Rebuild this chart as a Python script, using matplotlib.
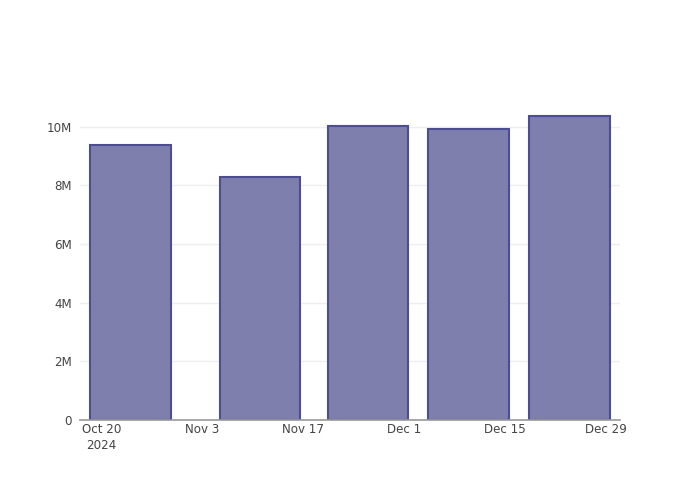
import numpy as np
import pandas as pd
import matplotlib
matplotlib.use('Agg')
import matplotlib.pyplot as plt
import matplotlib.dates as mdates

# weekly-ish totals
dates = pd.to_datetime(['2024-10-24', '2024-11-11', '2024-11-26', '2024-12-10', '2024-12-24'])
values = [9.37e6, 8.29e6, 10.04e6, 9.92e6, 10.37e6]

tick_dates = pd.to_datetime(['2024-10-20', '2024-11-03', '2024-11-17',
                             '2024-12-01', '2024-12-15', '2024-12-29'])
tick_labels = ['Oct 20\n2024', 'Nov 3', 'Nov 17', 'Dec 1', 'Dec 15', 'Dec 29']
y_ticks = [0, 2e6, 4e6, 6e6, 8e6, 10e6]
y_labels = ['0', '2M', '4M', '6M', '8M', '10M']

plt.rcParams['font.family'] = ['DejaVu Sans']
fig = plt.figure(figsize=(7, 5), dpi=100)
ax = fig.add_axes([80 / 700, 80 / 500, 540 / 700, 320 / 500])

x = mdates.date2num(dates)
width = 0.8 * np.min(np.diff(x))
ax.bar(x, values, width=width, color='#7f7fae', edgecolor='#4d4d91',
       linewidth=1.5, zorder=3)

ax.set_xlim(mdates.date2num(pd.Timestamp('2024-10-17')),
            mdates.date2num(pd.Timestamp('2024-12-31')))
ax.set_ylim(0, 10.91e6)

ax.set_xticks(mdates.date2num(tick_dates))
ax.set_xticklabels(tick_labels, fontsize=8.6, color='#444444', linespacing=1.3)
ax.set_yticks(y_ticks)
ax.set_yticklabels(y_labels, fontsize=8.6, color='#444444')
ax.tick_params(axis='x', length=0, pad=2)
ax.tick_params(axis='y', length=0, pad=6)

ax.grid(axis='y', color='#eeeeee', linewidth=1, zorder=0)
for s in ['top', 'right', 'left']:
    ax.spines[s].set_visible(False)
ax.spines['bottom'].set_color('#999999')
ax.spines['bottom'].set_linewidth(1.2)
ax.spines['bottom'].set_zorder(4)

fig.savefig('out.png', dpi=100)
